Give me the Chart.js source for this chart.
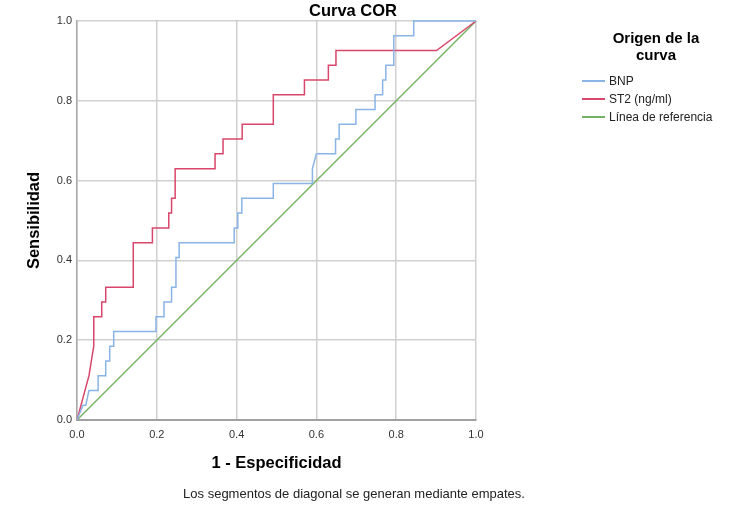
<!DOCTYPE html>
<html lang="es">
<head>
  <meta charset="UTF-8">
  <title>Curva COR</title>
  <style>
    body { margin: 0; background: #fff; font-family: "Liberation Sans", Arial, sans-serif; }
    #wrap { position: relative; width: 733px; height: 508px; }
    #box { position: absolute; left: 0; top: 0; width: 733px; height: 508px; }
    #title { position: absolute; left: 253px; width: 200px; top: 1px; text-align: center;
             font-weight: bold; font-size: 16.5px; color: #000; }
    #legend { position: absolute; left: 580px; top: 29px; width: 152px; }
    #legend .head { text-align: center; font-weight: bold; font-size: 15px; line-height: 17px; color: #000; margin-bottom: 9px; }
    #legend .item { position: relative; height: 18px; font-size: 12px; line-height: 18px; color: #222; padding-left: 29px; }
    #legend .item span { position: absolute; left: 2px; top: 8px; width: 23px; height: 0; border-top: 2px solid; }
    #note { position: absolute; left: 154px; width: 400px; top: 486px; text-align: center; font-size: 13px; color: #222; }
  </style>
</head>
<body>
  <div id="wrap">
    <div id="box"><canvas id="roc"></canvas></div>
    <div id="title">Curva COR</div>
    <div id="legend">
      <div class="head">Origen de la<br>curva</div>
      <div class="item"><span style="border-color:#8ab4e6"></span>BNP</div>
      <div class="item"><span style="border-color:#d8476b"></span>ST2 (ng/ml)</div>
      <div class="item"><span style="border-color:#72b262"></span>Línea de referencia</div>
    </div>
    <div id="note">Los segmentos de diagonal se generan mediante empates.</div>
  </div>

  <script src="https://cdn.jsdelivr.net/npm/chart.js"></script>
  <script>
    // 1 - Especificidad / Sensibilidad
    const bnpX = [0, 0.015, 0.022, 0.030, 0.053, 0.053, 0.072, 0.072, 0.082, 0.082, 0.092, 0.092,
      0.198, 0.198, 0.218, 0.218, 0.237, 0.237, 0.248, 0.248, 0.256, 0.256, 0.394, 0.394, 0.403, 0.403,
      0.413, 0.413, 0.492, 0.492, 0.590, 0.590, 0.600, 0.648, 0.648, 0.657, 0.657, 0.699, 0.699,
      0.747, 0.747, 0.766, 0.766, 0.774, 0.774, 0.794, 0.794, 0.844, 0.844, 1.0];
    const bnpY = [0, 0.037, 0.037, 0.074, 0.074, 0.111, 0.111, 0.148, 0.148, 0.185, 0.185, 0.222,
      0.222, 0.259, 0.259, 0.296, 0.296, 0.333, 0.333, 0.407, 0.407, 0.444, 0.444, 0.481, 0.481, 0.519,
      0.519, 0.556, 0.556, 0.593, 0.593, 0.630, 0.667, 0.667, 0.704, 0.704, 0.741, 0.741, 0.778,
      0.778, 0.815, 0.815, 0.852, 0.852, 0.889, 0.889, 0.963, 0.963, 1.0, 1.0];

    const st2X = [0, 0.030, 0.042, 0.042, 0.062, 0.062, 0.072, 0.072, 0.141, 0.141, 0.189, 0.189,
      0.230, 0.230, 0.237, 0.237, 0.246, 0.246, 0.346, 0.346, 0.366, 0.366, 0.414, 0.414, 0.492, 0.492,
      0.570, 0.570, 0.630, 0.630, 0.649, 0.649, 0.901, 1.0];
    const st2Y = [0, 0.111, 0.185, 0.259, 0.259, 0.296, 0.296, 0.333, 0.333, 0.444, 0.444, 0.481,
      0.481, 0.519, 0.519, 0.556, 0.556, 0.630, 0.630, 0.667, 0.667, 0.704, 0.704, 0.741, 0.741, 0.815,
      0.815, 0.852, 0.852, 0.889, 0.889, 0.926, 0.926, 1.0];

    const refX = [0, 1];
    const refY = [0, 1];

    const axisTicks = [0, 0.2, 0.4, 0.6, 0.8, 1.0];

    const pts = (xs, ys) => xs.map((x, i) => ({ x: x, y: ys[i] }));
    const font = 'Liberation Sans, Arial, sans-serif';

    function serie(label, xs, ys, color) {
      return {
        label: label,
        data: pts(xs, ys),
        showLine: true,
        borderColor: color,
        backgroundColor: color,
        borderWidth: 1.5,
        pointRadius: 0,
        tension: 0,
        clip: false
      };
    }

    const ctx = document.getElementById('roc').getContext('2d');
    new Chart(ctx, {
      type: 'scatter',
      data: {
        datasets: [
          serie('BNP', bnpX, bnpY, '#8ab4e6'),
          serie('ST2 (ng/ml)', st2X, st2Y, '#d8476b'),
          serie('Línea de referencia', refX, refY, '#72b262')
        ]
      },
      options: {
        responsive: true,
        maintainAspectRatio: false,
        animation: false,
        layout: { padding: { top: 21, right: 257, bottom: 0, left: 0 } },
        plugins: {
          legend: { display: false },
          title: { display: false },
          tooltip: { enabled: false }
        },
        scales: {
          x: {
            type: 'linear',
            min: 0,
            max: 1,
            afterBuildTicks: s => { s.ticks = axisTicks.map(v => ({ value: v })); },
            afterFit: s => { s.height = 88; },
            ticks: { padding: 8, color: '#333', font: { family: font, size: 11 },
                     callback: v => v.toFixed(1) },
            grid: { color: '#d0d0d0', lineWidth: 1.5, drawTicks: false },
            border: { color: '#a0a0a0', width: 2 },
            title: { display: true, text: '1 - Especificidad', color: '#000',
                     font: { family: font, size: 16.5, weight: 'bold' }, padding: { top: 0, bottom: 35 } }
          },
          y: {
            type: 'linear',
            min: 0,
            max: 1,
            afterBuildTicks: s => { s.ticks = axisTicks.map(v => ({ value: v })); },
            afterFit: s => { s.width = 77; },
            ticks: { padding: 5, color: '#333', font: { family: font, size: 11 },
                     callback: v => v.toFixed(1) },
            grid: { color: '#d0d0d0', lineWidth: 1.5, drawTicks: false },
            border: { color: '#a8a8a8', width: 1.5 },
            title: { display: true, text: 'Sensibilidad', color: '#000',
                     font: { family: font, size: 16.5, weight: 'bold' }, padding: { top: 25, bottom: 0 } }
          }
        }
      }
    });
  </script>
</body>
</html>
